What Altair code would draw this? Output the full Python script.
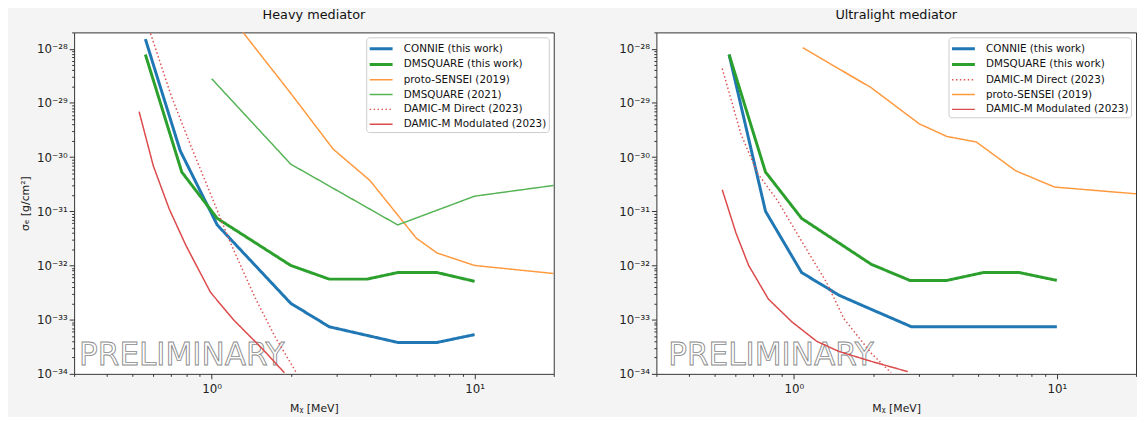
import altair as alt
import pandas as pd

# ---------------- data ----------------
# Heavy mediator
h_connie_x = [0.56, 0.76, 1.05, 2.0, 2.8, 5.1, 7.2, 10.0]
h_connie_y = [1.5e-28, 1.3e-30, 5.6e-32, 2.0e-33, 7.4e-34, 3.8e-34, 3.8e-34, 5.3e-34]
h_dmsq_x = [0.56, 0.77, 1.05, 2.0, 2.8, 3.9, 5.1, 7.2, 10.0]
h_dmsq_y = [7.8e-29, 5.3e-31, 7.4e-32, 1.0e-32, 5.6e-33, 5.6e-33, 7.4e-33, 7.4e-33, 5.1e-33]
h_sensei_x = [1.0, 2.0, 2.9, 4.0, 6.0, 7.2, 10.0, 20.0]
h_sensei_y = [1.1e-27, 1.5e-29, 1.4e-30, 3.7e-31, 3.2e-32, 1.7e-32, 1.0e-32, 7.1e-33]
h_dmsq21_x = [1.0, 2.0, 5.1, 10.0, 20.0]
h_dmsq21_y = [2.8e-29, 7.4e-31, 5.6e-32, 1.9e-31, 3.0e-31]
h_direct_x = [0.586, 0.70, 0.83, 0.99, 1.18, 1.46, 1.74, 2.10]
h_direct_y = [1.9e-28, 1.4e-29, 1.7e-30, 2.1e-31, 2.6e-32, 2.6e-33, 4.9e-34, 1.05e-34]
h_mod_x = [0.53, 0.60, 0.69, 0.80, 0.99, 1.21, 1.57, 1.89]
h_mod_y = [6.9e-30, 6.9e-31, 1.1e-31, 2.3e-32, 3.2e-33, 1.0e-33, 2.8e-34, 1.05e-34]

# Ultralight mediator
u_connie_x = [0.567, 0.78, 1.07, 1.49, 2.0, 2.8, 5.0, 7.0, 10.0]
u_connie_y = [7.8e-29, 1.0e-31, 7.4e-33, 2.8e-33, 1.5e-33, 7.4e-34, 7.4e-34, 7.4e-34, 7.4e-34]
u_dmsq_x = [0.567, 0.78, 1.07, 1.97, 2.76, 3.82, 5.25, 7.2, 10.0]
u_dmsq_y = [7.8e-29, 5.3e-31, 7.4e-32, 1.05e-32, 5.3e-33, 5.3e-33, 7.4e-33, 7.4e-33, 5.3e-33]
u_direct_x = [0.534, 0.63, 0.73, 0.865, 1.08, 1.33, 1.55, 1.97, 2.34]
u_direct_y = [4.3e-29, 2.6e-30, 4.9e-31, 1.6e-31, 2.6e-32, 4.9e-33, 1.04e-33, 2.4e-34, 1.05e-34]
u_sensei_x = [1.08, 1.97, 3.0, 3.82, 4.94, 6.97, 9.8, 20.0]
u_sensei_y = [1.05e-28, 1.9e-29, 4.1e-30, 2.4e-30, 1.9e-30, 5.6e-31, 2.8e-31, 2.1e-31]
u_mod_x = [0.534, 0.602, 0.673, 0.80, 0.983, 1.22, 1.48, 1.97, 2.71]
u_mod_y = [2.5e-31, 4.0e-32, 1.0e-32, 2.4e-33, 9.1e-34, 4.0e-34, 2.6e-34, 1.7e-34, 1.1e-34]

# series labels
S_CONNIE = "CONNIE (this work)"
S_DMSQ = "DMSQUARE (this work)"
S_SENSEI = "proto-SENSEI (2019)"
S_DMSQ21 = "DMSQUARE (2021)"
S_DIRECT = "DAMIC-M Direct (2023)"
S_MOD = "DAMIC-M Modulated (2023)"

heavy_order = [S_CONNIE, S_DMSQ, S_SENSEI, S_DMSQ21, S_DIRECT, S_MOD]
ultra_order = [S_CONNIE, S_DMSQ, S_DIRECT, S_SENSEI, S_MOD]

heavy_series = {
    S_CONNIE: (h_connie_x, h_connie_y),
    S_DMSQ: (h_dmsq_x, h_dmsq_y),
    S_SENSEI: (h_sensei_x, h_sensei_y),
    S_DMSQ21: (h_dmsq21_x, h_dmsq21_y),
    S_DIRECT: (h_direct_x, h_direct_y),
    S_MOD: (h_mod_x, h_mod_y),
}
ultra_series = {
    S_CONNIE: (u_connie_x, u_connie_y),
    S_DMSQ: (u_dmsq_x, u_dmsq_y),
    S_DIRECT: (u_direct_x, u_direct_y),
    S_SENSEI: (u_sensei_x, u_sensei_y),
    S_MOD: (u_mod_x, u_mod_y),
}

# styles
COLOR = {S_CONNIE: "#1f77b4", S_DMSQ: "#2ca02c", S_SENSEI: "#ff993e",
         S_DMSQ21: "#56b356", S_DIRECT: "#de5253", S_MOD: "#dc4a4b"}
WIDTH = {S_CONNIE: 3, S_DMSQ: 3, S_SENSEI: 1.5, S_DMSQ21: 1.5, S_DIRECT: 1.5, S_MOD: 1.5}
DASH = {S_CONNIE: [1, 0], S_DMSQ: [1, 0], S_SENSEI: [1, 0], S_DMSQ21: [1, 0],
        S_DIRECT: [1.5, 2.5], S_MOD: [1, 0]}

FONT = "DejaVu Sans"
XDOM = [0.3, 20]
YDOM = [1e-34, 2e-28]
PW, PH = 486, 346


def to_df(series):
    rows = []
    for name, (xs, ys) in series.items():
        for i, (xv, yv) in enumerate(zip(xs, ys)):
            rows.append({"series": name, "x": xv, "y": yv, "i": i})
    return pd.DataFrame(rows)


def sup(n):
    table = str.maketrans("-0123456789", "⁻⁰¹²³⁴⁵⁶⁷⁸⁹")
    return "10" + str(n).translate(table)


def label_expr(exps):
    e = "round(log(datum.value)/LN10)"
    isdec = f"abs(log(datum.value)/LN10 - {e}) < 0.001"
    chain = "''"
    for k in reversed(exps):
        chain = f"({e} == {k} ? '{sup(k)}' : {chain})"
    return f"({isdec}) ? {chain} : ''"


def tick_size_cond():
    e = "round(log(datum.value)/LN10)"
    return {"condition": {"test": f"abs(log(datum.value)/LN10 - {e}) < 0.001", "value": 5},
            "value": 2.5}


y_ticks = [m * 10.0 ** e for e in range(-34, -27) for m in range(1, 10) if m * 10.0 ** e <= 2e-28 * 1.0001]
x_ticks = [0.3, 0.4, 0.5, 0.6, 0.7, 0.8, 0.9, 1, 2, 3, 4, 5, 6, 7, 8, 9, 10, 20]


def panel(series, order, title, ytitle, prelim_x):
    df = to_df(series)
    xaxis = alt.Axis(values=x_ticks, labelExpr=label_expr([0, 1]), tickSize=tick_size_cond(),
                     labelOverlap=False, grid=False, domain=False, tickColor="#333",
                     labelColor="#222", labelFont=FONT, labelFontSize=12, labelPadding=5,
                     title="Mᵪ [MeV]", titleFont=FONT, titleFontSize=11,
                     titleFontWeight="normal", titleColor="#222", titlePadding=8)
    yargs = dict(values=y_ticks, labelExpr=label_expr(list(range(-34, -27))),
                 tickSize=tick_size_cond(), labelOverlap=False, grid=False, domain=False,
                 tickColor="#333", labelColor="#222", labelFont=FONT, labelFontSize=12,
                 labelPadding=2, titleFont=FONT, titleFontSize=11,
                 titleFontWeight="normal", titleColor="#222", titlePadding=6)
    if ytitle:
        yaxis = alt.Axis(title=ytitle, **yargs)
    else:
        yaxis = alt.Axis(title=None, **yargs)

    lines = alt.Chart(df).mark_line(clip=True, strokeCap="butt").encode(
        x=alt.X("x:Q", scale=alt.Scale(type="log", domain=XDOM, nice=False), axis=xaxis),
        y=alt.Y("y:Q", scale=alt.Scale(type="log", domain=YDOM, nice=False), axis=yaxis),
        color=alt.Color("series:N",
                        scale=alt.Scale(domain=order, range=[COLOR[s] for s in order]),
                        legend=alt.Legend(title=None)),
        strokeWidth=alt.StrokeWidth("series:N",
                                    scale=alt.Scale(type="ordinal", domain=order,
                                                    range=[WIDTH[s] for s in order]),
                                    legend=alt.Legend(title=None)),
        strokeDash=alt.StrokeDash("series:N",
                                  scale=alt.Scale(domain=order, range=[DASH[s] for s in order]),
                                  legend=alt.Legend(title=None)),
        order="i:Q",
    )

    prelim = alt.Chart(pd.DataFrame({"t": ["PRELIMINARY"]})).mark_text(
        align="left", baseline="alphabetic", font=FONT, fontSize=31.5,
        fill="white", stroke="#8a8a8a", strokeWidth=0.9,
    ).encode(text="t:N", x=alt.value(prelim_x), y=alt.value(337))

    return alt.layer(prelim, lines).properties(
        width=PW, height=PH,
        title=alt.TitleParams(title, font=FONT, fontSize=13, fontWeight="normal",
                              color="#111", offset=5, anchor="middle"),
    )


left = panel(heavy_series, heavy_order, "Heavy mediator", "σₑ [g/cm²]", 5)
right = panel(ultra_series, ultra_order, "Ultralight mediator", None, 12)

chart = alt.hconcat(left, right, spacing=64).resolve_scale(
    color="independent", strokeWidth="independent", strokeDash="independent"
).resolve_legend(
    color="independent", strokeWidth="independent", strokeDash="independent"
).properties(
    padding={"left": 11, "top": -3, "right": 0, "bottom": 0},
    background="#f4f4f4",
).configure_view(
    fill="white", stroke="#333", strokeWidth=1
).configure_legend(
    orient="top-right", offset=5, padding=2, fillColor="white", strokeColor="#cccccc",
    cornerRadius=3, labelFont=FONT, labelFontSize=10.5, labelColor="#111",
    symbolType="M-1,0H1.9", symbolSize=256, rowPadding=0, labelLimit=300, labelOffset=17,
)

chart.save("out.html", embed_options={"renderer": "svg", "actions": False})
